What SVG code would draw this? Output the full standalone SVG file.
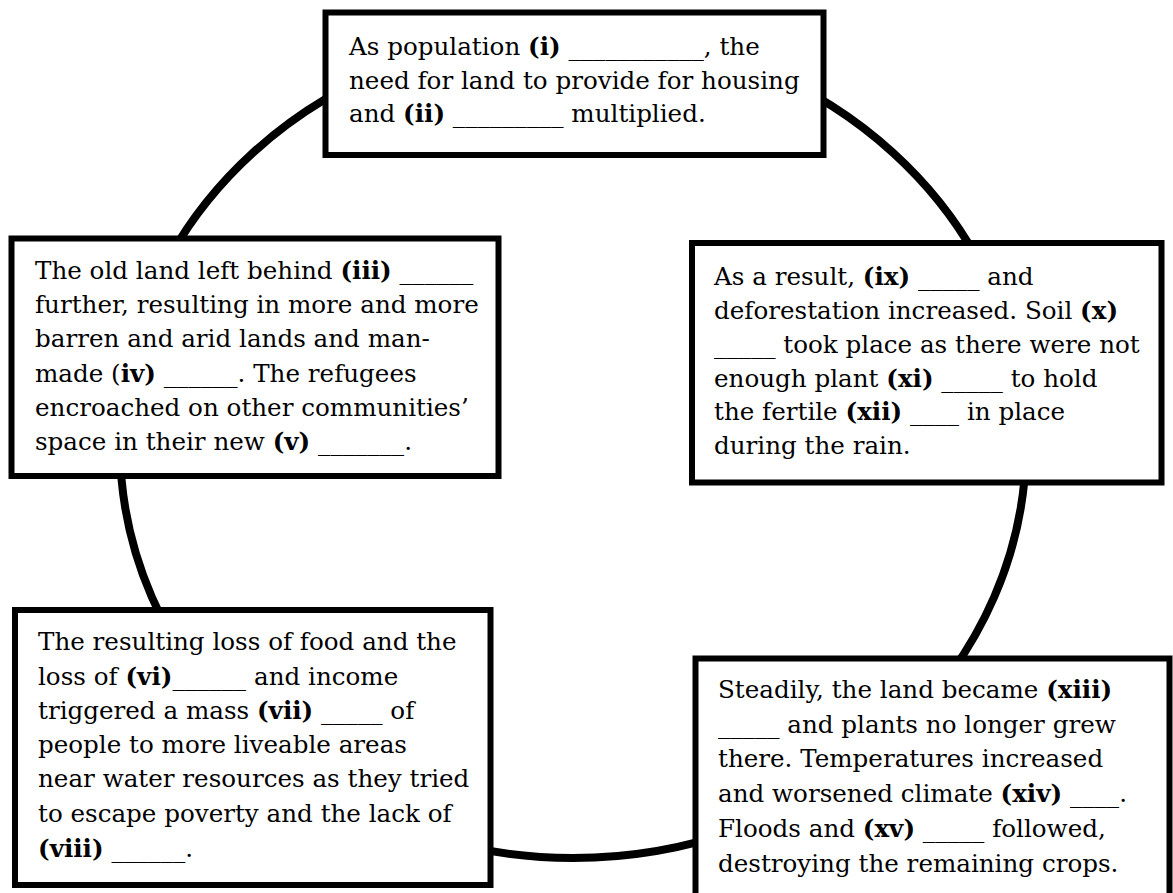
<svg xmlns="http://www.w3.org/2000/svg" width="1173" height="893" viewBox="0 0 1173 893">
<style>
.box{fill:#fff;stroke:#000;stroke-width:6}
.ring{fill:none;stroke:#000;stroke-width:8}
text{font-family:"DejaVu Serif","Liberation Serif",serif;font-size:24.6px;fill:#000}
.b{font-weight:bold}
</style>
<rect width="1173" height="893" fill="#fff"/>
<g id="connectors">
<ellipse class="ring" cx="573" cy="445" rx="453" ry="413"/>
</g>
<g id="node-top">
<rect class="box" x="325.5" y="12.5" width="498" height="142.5"/>
<text x="349" y="55">As population <tspan class="b">(i)</tspan> ___________, the</text>
<text x="349" y="89">need for land to provide for housing</text>
<text x="349" y="122">and <tspan class="b">(ii)</tspan> _________ multiplied.</text>
</g>
<g id="node-left">
<rect class="box" x="11.5" y="238.5" width="487" height="237.5"/>
<text x="35" y="279">The old land left behind <tspan class="b">(iii)</tspan> ______</text>
<text x="35" y="313">further, resulting in more and more</text>
<text x="35" y="347">barren and arid lands and man-</text>
<text x="35" y="382">made (<tspan class="b">iv)</tspan> ______. The refugees</text>
<text x="35" y="416">encroached on other communities’</text>
<text x="35" y="450">space in their new <tspan class="b">(v)</tspan> _______.</text>
</g>
<g id="node-right">
<rect class="box" x="692" y="243" width="469.5" height="239.5"/>
<text x="714" y="285">As a result, <tspan class="b">(ix)</tspan> _____ and</text>
<text x="714" y="319">deforestation increased. Soil <tspan class="b">(x)</tspan></text>
<text x="714" y="353">_____ took place as there were not</text>
<text x="714" y="387">enough plant <tspan class="b">(xi)</tspan> _____ to hold</text>
<text x="714" y="420">the fertile <tspan class="b">(xii)</tspan> ____ in place</text>
<text x="714" y="454">during the rain.</text>
</g>
<g id="node-bottom-left">
<rect class="box" x="15" y="610" width="475.5" height="275"/>
<text x="38" y="650">The resulting loss of food and the</text>
<text x="38" y="685">loss of <tspan class="b">(vi)</tspan>______ and income</text>
<text x="38" y="719">triggered a mass <tspan class="b">(vii)</tspan> _____ of</text>
<text x="38" y="753">people to more liveable areas</text>
<text x="38" y="787">near water resources as they tried</text>
<text x="38" y="822">to escape poverty and the lack of</text>
<text x="38" y="857"><tspan class="b">(viii)</tspan> ______.</text>
</g>
<g id="node-bottom-right">
<rect class="box" x="695.5" y="658.5" width="474" height="245"/>
<text x="718" y="698">Steadily, the land became <tspan class="b">(xiii)</tspan></text>
<text x="718" y="733">_____ and plants no longer grew</text>
<text x="718" y="767">there. Temperatures increased</text>
<text x="718" y="802">and worsened climate <tspan class="b">(xiv)</tspan> ____.</text>
<text x="718" y="837">Floods and <tspan class="b">(xv)</tspan> _____ followed,</text>
<text x="718" y="872">destroying the remaining crops.</text>
</g>
</svg>
